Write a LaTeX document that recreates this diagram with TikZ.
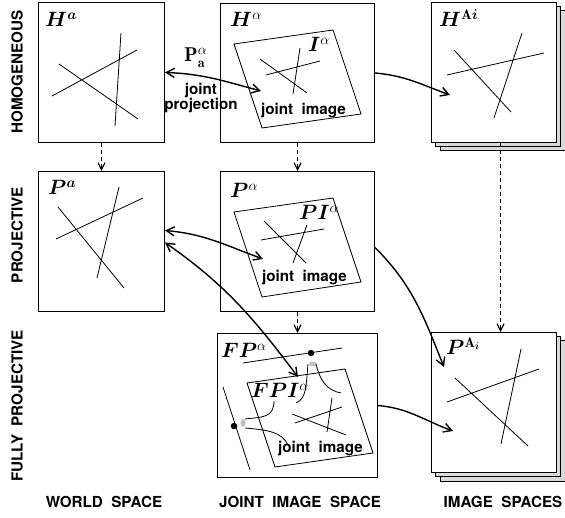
\documentclass[tikz,border=0pt]{standalone}
\usepackage{amsmath,amssymb}
\usepackage{bm}
\usepackage{fontspec}
\setsansfont{TeX Gyre Heros}
\usepackage{tikz}
\usetikzlibrary{arrows.meta}

\tikzset{
  spacebox/.style={draw, line width=1pt, fill=white, inner sep=0pt,
    anchor=north west, minimum width=126pt, minimum height=140pt},
  shadowbox/.style={spacebox, fill=black!15},
  imgline/.style={line width=0.8pt},
  mapto/.style={line width=1.4pt, -{Straight Barb[length=8pt,width=9pt]}},
  mapboth/.style={line width=1.4pt,
    {Straight Barb[length=8pt,width=9pt]}-{Straight Barb[length=8pt,width=9pt]}},
  liftto/.style={line width=1.2pt, dash pattern=on 4pt off 3pt,
    -{Straight Barb[length=7pt,width=7pt]}},
  mlabel/.style={inner sep=0pt, anchor=base west, font=\fontsize{20}{24}\selectfont},
  tlabel/.style={inner sep=0pt, font=\sffamily\bfseries\fontsize{15.2}{17}\selectfont},
  ptdot/.style={circle, fill=black, inner sep=0pt, minimum size=6.5pt},
}

\begin{document}
\begin{tikzpicture}[x=1pt, y=-1pt]
  \useasboundingbox (0,0) rectangle (565,518);

  % world space
  \node[spacebox] (ha) at (38,2) {};
  \node[spacebox] (pa) at (38,171) {};
  % joint image space
  \node[spacebox, minimum width=154pt, minimum height=139pt] (halpha) at (220,3) {};
  \node[spacebox, minimum width=154pt] (palpha) at (220,171) {};
  \node[spacebox, minimum width=160pt, minimum height=144pt] (fpalpha) at (217,333) {};
  % image spaces (stacked)
  \node[shadowbox, minimum width=125pt] (hai3) at (439.5,10.5) {};
  \node[shadowbox, minimum width=125pt] (hai2) at (435.25,6.25) {};
  \node[spacebox, minimum width=125pt] (hai) at (431,2) {};
  \node[shadowbox, minimum width=125pt] (pai3) at (439.5,340.5) {};
  \node[shadowbox, minimum width=125pt] (pai2) at (435.25,336.25) {};
  \node[spacebox, minimum width=125pt] (pai) at (431,332) {};

  % joint images
  \draw[imgline] (234,44) -- (333,30) -- (361,114) -- (262,128) -- cycle;
  \draw[imgline] (234,212) -- (333,198) -- (361,282) -- (262,297) -- cycle;
  \draw[imgline] (247,383) -- (345,369) -- (373,453) -- (275,467) -- cycle;

  % lines in the spaces
  \draw[imgline] (59,64) -- (138,119) (52,96) -- (137,50) (121,33) -- (115,126);
  \draw[imgline] (58,207) -- (124,288) (56,239) -- (143,198) (119,187) -- (97,278);
  \draw[imgline] (260,59) -- (307,93) (266,75) -- (320,61) (300,48) -- (293,94);
  \draw[imgline] (264,221) -- (306,263) (261,240) -- (324,229) (307,225) -- (293,263);
  \draw[imgline] (292,414) -- (346,435) (295,423) -- (342,407) (332,398) -- (327,432);
  \draw[imgline] (454,50) -- (511,112) (447,75) -- (544,53) (522,33) -- (494,118);
  \draw[imgline] (455,378) -- (528,446) (447,402) -- (539,369) (521,349) -- (501,444);

  % fully projective lines and their lifts
  \draw[imgline] (243,363) -- (342,348);
  \draw[imgline] (223,387) -- (250,470);
  \node[ptdot] (topdot) at (311,353) {};
  \node[ptdot] (leftdot) at (234,426) {};
  \fill[black!25] (313,364) ellipse (4pt and 2.5pt);
  \fill[black!25] (243,423) ellipse (2.5pt and 4pt);
  \draw[imgline] (308,364) .. controls (306,385) and (307,398) .. (296,403);
  \draw[imgline] (316,364) .. controls (320,380) and (326,390) .. (341,393);
  \draw[imgline] (245,419) .. controls (262,417) and (274,418) .. (274,401);
  \draw[imgline] (245,428) .. controls (268,430) and (282,432) .. (288,445);

  % labels
  \node[mlabel] (lha) at (45,27) {$\bm{H}^{\bm{a}}$};
  \node[mlabel] (lpa) at (48,195) {$\bm{P}^{\bm{a}}$};
  \node[mlabel] (lhalpha) at (230,27) {$\bm{H}^{\alpha}$};
  \node[mlabel] (lialpha) at (308,52) {$\bm{I}^{\alpha}$};
  \node[mlabel] (lpalpha) at (230,198) {$\bm{P}^{\alpha}$};
  \node[mlabel] (lpialpha) at (299,220) {$\bm{PI}^{\alpha}$};
  \node[mlabel] (lfpalpha) at (221,358) {$\bm{FP}^{\alpha}$};
  \node[mlabel] (lfpialpha) at (251,398) {$\bm{FPI}^{\alpha}$};
  \node[mlabel] (lhai) at (439,27) {$\bm{H}^{\mathbf{A}\bm{i}}$};
  \node[mlabel] (lpai) at (446,355) {$\bm{P}^{\mathbf{A}_{\bm{i}}}$};
  \node[mlabel] (lproj) at (184,62) {$\mathbf{P}_{\mathbf{a}}^{\alpha}$};

  \node[tlabel, anchor=base west] (jih) at (261,115) {joint\ \ image};
  \node[tlabel, anchor=base west] (jip) at (262,282) {joint\ \ image};
  \node[tlabel, anchor=base west] (jif) at (278,453) {joint\ \ image};
  \node[tlabel, align=center] (jproj) at (201,98) {joint\\[-2pt]projection};

  \node[tlabel, rotate=90] (homog) at (17,72) {HOMOGENEOUS};
  \node[tlabel, rotate=90] (proj) at (17,235) {PROJECTIVE};
  \node[tlabel, rotate=90] (fproj) at (17,406) {FULLY\ \ PROJECTIVE};
  \node[tlabel] (world) at (104,502) {WORLD\ \ SPACE};
  \node[tlabel] (joint) at (300,502) {JOINT\ \ IMAGE\ \ SPACE};
  \node[tlabel] (images) at (503,502) {IMAGE\ \ SPACES};

  % arrow ends inside the spaces
  \coordinate (jh) at (261,91);
  \coordinate (jp) at (263,259);
  \coordinate (jf) at (298,377);
  \coordinate (ih) at (450,95);
  \coordinate (ip) at (444,367);
  \coordinate (if) at (453,431);

  % maps
  \draw[mapboth] (ha.east) to[out=-2, in=165] (jh);
  \draw[mapboth] ([yshift=11pt]pa.east) to[out=-5, in=160] (jp);
  \draw[mapboth] ([yshift=-1pt]pa.east) to[out=-35, in=127] (jf);
  \draw[mapto] (halpha.east) to[out=-5, in=160] (ih);
  \draw[mapto] ([yshift=-6pt]palpha.east) to[out=-45, in=112] (ip);
  \draw[mapto] (fpalpha.east) to[out=-5, in=160] (if);

  % lifts
  \draw[liftto] (ha.south) -- (pa.north);
  \draw[liftto] (halpha.south) -- (palpha.north);
  \draw[liftto] (palpha.south) -- (fpalpha.north);
  \draw[liftto] ([xshift=6.5pt]hai.south) -- ([xshift=6.5pt]pai.north);
\end{tikzpicture}
\end{document}
